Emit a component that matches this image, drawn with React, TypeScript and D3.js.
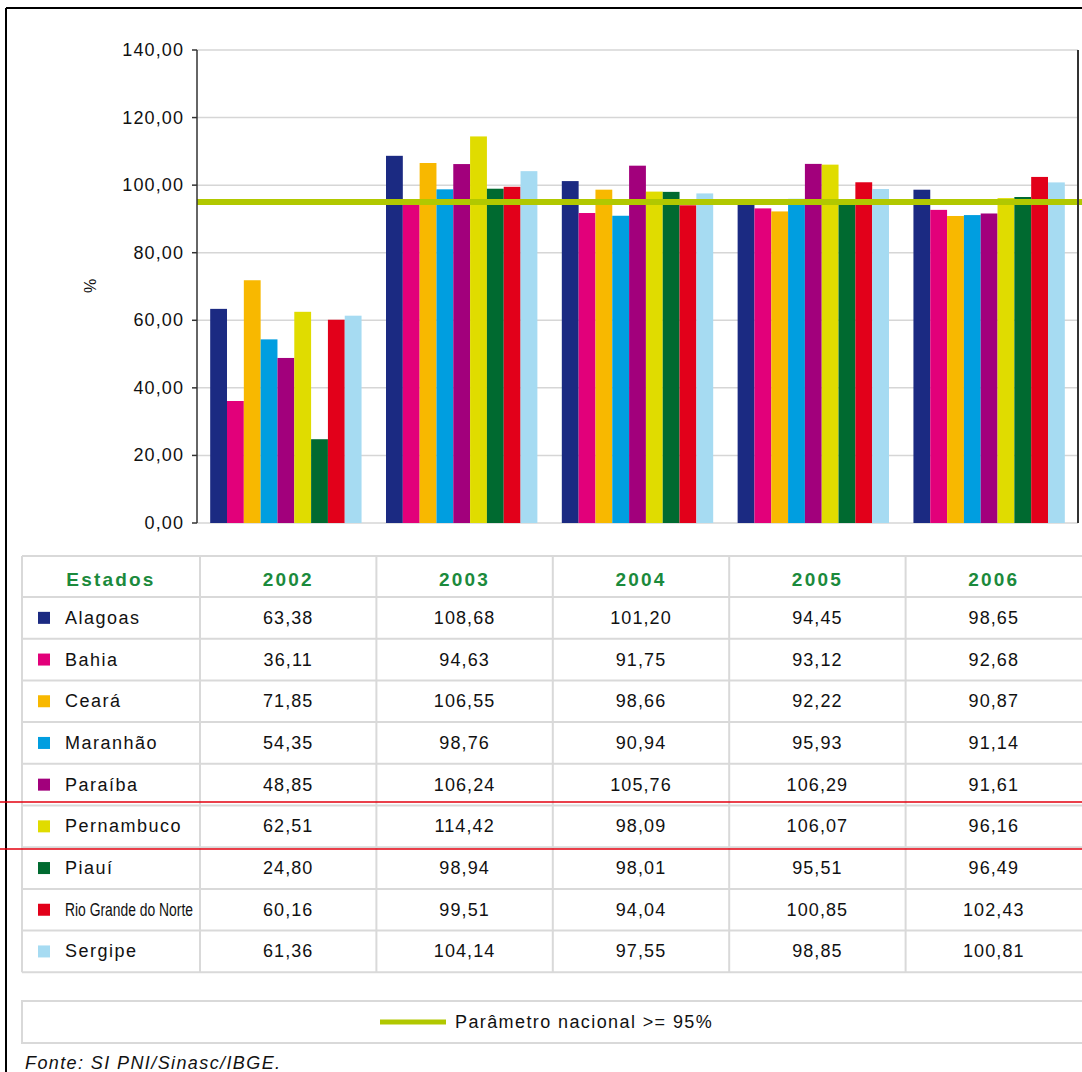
import React from "react";
import * as d3 from "d3";

// Cobertura vacinal por estado do Nordeste, 2002–2006 (%)
const years = ["2002", "2003", "2004", "2005", "2006"];
const states = [
  "Alagoas",
  "Bahia",
  "Ceará",
  "Maranhão",
  "Paraíba",
  "Pernambuco",
  "Piauí",
  "Rio Grande do Norte",
  "Sergipe",
];
const stateColors = [
  "#1b2a82",
  "#e2007a",
  "#f8b800",
  "#009ee0",
  "#a2007c",
  "#e0dc00",
  "#006a30",
  "#e2001a",
  "#a6dbf2",
];
const alagoas = [63.38, 108.68, 101.2, 94.45, 98.65];
const bahia = [36.11, 94.63, 91.75, 93.12, 92.68];
const ceara = [71.85, 106.55, 98.66, 92.22, 90.87];
const maranhao = [54.35, 98.76, 90.94, 95.93, 91.14];
const paraiba = [48.85, 106.24, 105.76, 106.29, 91.61];
const pernambuco = [62.51, 114.42, 98.09, 106.07, 96.16];
const piaui = [24.8, 98.94, 98.01, 95.51, 96.49];
const rioGrandeDoNorte = [60.16, 99.51, 94.04, 100.85, 102.43];
const sergipe = [61.36, 104.14, 97.55, 98.85, 100.81];
const seriesValues = [
  alagoas,
  bahia,
  ceara,
  maranhao,
  paraiba,
  pernambuco,
  piaui,
  rioGrandeDoNorte,
  sergipe,
];
const yTicks = [0, 20, 40, 60, 80, 100, 120, 140];
const nationalTarget = 95;
const targetLabel = "Parâmetro nacional >= 95%";
const sourceNote = "Fonte: SI PNI/Sinasc/IBGE.";

const W = 1082;
const H = 1072;
const FONT = "'Liberation Sans', Arial, sans-serif";
const fmt = (v: number) => d3.format(".2f")(v).replace(".", ",");

export default function App() {
  const plotLeft = 197;
  const plotRight = 1078;
  const plotTop = 50;
  const plotBottom = 523;

  const y = d3.scaleLinear().domain([0, 140]).range([plotBottom, plotTop]);
  const xYear = d3
    .scaleBand<string>()
    .domain(years)
    .range([plotLeft, plotRight])
    .paddingInner(0.139)
    .paddingOuter(0.075);
  const xState = d3
    .scaleBand<string>()
    .domain(states)
    .range([0, xYear.bandwidth()]);

  // table geometry
  const tLeft = 22;
  const tRight = 1082;
  const tHeadTop = 556;
  const tTop = 597;
  const rowH = 41.7;
  const firstColRight = 200;
  const colX = d3
    .scaleBand<string>()
    .domain(years)
    .range([firstColRight, tRight]);
  const tBottom = tTop + rowH * states.length;
  const gridColor = "#d9d9d9";

  return (
    <div style={{ position: "absolute", left: 0, top: 0 }}>
      <svg width={W} height={H} style={{ display: "block", background: "#fff" }}>
        {/* outer frame */}
        <line x1={6} y1={8} x2={W} y2={8} stroke="#000" strokeWidth={2} />
        <line x1={6} y1={8} x2={6} y2={H} stroke="#000" strokeWidth={2} />

        {/* gridlines */}
        {yTicks.map((t) => (
          <line
            key={"g" + t}
            x1={plotLeft}
            x2={plotRight}
            y1={y(t)}
            y2={y(t)}
            stroke="#d6d6d6"
            strokeWidth={1.5}
          />
        ))}

        {/* bars */}
        {years.map((yr, yi) => (
          <g key={yr} transform={`translate(${xYear(yr)},0)`}>
            {states.map((st, si) => {
              const v = seriesValues[si][yi];
              return (
                <rect
                  key={st}
                  x={xState(st)}
                  y={y(v)}
                  width={xState.bandwidth()}
                  height={y(0) - y(v)}
                  fill={stateColors[si]}
                />
              );
            })}
          </g>
        ))}

        {/* national target line */}
        <line
          x1={plotLeft}
          x2={W}
          y1={y(nationalTarget)}
          y2={y(nationalTarget)}
          stroke="#b1c800"
          strokeWidth={6}
        />

        {/* axes */}
        <line x1={plotLeft} x2={plotLeft} y1={plotTop} y2={plotBottom} stroke="#333" strokeWidth={1.5} />
        <line x1={plotRight} x2={plotRight} y1={plotTop} y2={plotBottom} stroke="#333" strokeWidth={2} />
        {yTicks.map((t) => (
          <g key={"t" + t}>
            <line x1={plotLeft - 5} x2={plotLeft} y1={y(t)} y2={y(t)} stroke="#333" strokeWidth={1.5} />
            <text
              x={184}
              y={y(t)}
              textAnchor="end"
              dominantBaseline="central"
              fontFamily={FONT}
              fontSize={18}
              letterSpacing={1.1}
              fill="#111"
            >
              {fmt(t)}
            </text>
          </g>
        ))}
        <text
          transform={`translate(90,286) rotate(-90)`}
          textAnchor="middle"
          dominantBaseline="central"
          fontFamily={FONT}
          fontSize={16}
          fill="#111"
        >
          %
        </text>

        {/* data table */}
        <g fontFamily={FONT}>
          {/* horizontal rules */}
          {d3.range(states.length + 2).map((i) => {
            const yy = i === 0 ? tHeadTop : tTop + rowH * (i - 1);
            return (
              <line key={"h" + i} x1={tLeft} x2={tRight} y1={yy} y2={yy} stroke={gridColor} strokeWidth={2} />
            );
          })}
          {/* vertical rules */}
          <line x1={tLeft} x2={tLeft} y1={tHeadTop} y2={tBottom} stroke={gridColor} strokeWidth={2} />
          {years.map((yr) => (
            <line
              key={"v" + yr}
              x1={colX(yr)}
              x2={colX(yr)}
              y1={tHeadTop}
              y2={tBottom}
              stroke={gridColor}
              strokeWidth={2}
            />
          ))}

          {/* header */}
          <text
            x={(tLeft + firstColRight) / 2}
            y={(tHeadTop + tTop) / 2 + 3}
            textAnchor="middle"
            dominantBaseline="central"
            fontSize={19}
            fontWeight="bold"
            letterSpacing={2.2}
            fill="#1b8a3c"
          >
            Estados
          </text>
          {years.map((yr) => (
            <text
              key={"hd" + yr}
              x={(colX(yr) as number) + colX.bandwidth() / 2}
              y={(tHeadTop + tTop) / 2 + 3}
              textAnchor="middle"
              dominantBaseline="central"
              fontSize={19}
              fontWeight="bold"
              letterSpacing={2.2}
              fill="#1b8a3c"
            >
              {yr}
            </text>
          ))}

          {/* rows */}
          {states.map((st, si) => {
            const cy = tTop + rowH * si + rowH / 2;
            const isLong = st.length > 12;
            return (
              <g key={"r" + st}>
                <rect x={38} y={cy - 6} width={12} height={12} fill={stateColors[si]} />
                <text
                  x={65}
                  y={cy}
                  dominantBaseline="central"
                  fontSize={18}
                  letterSpacing={isLong ? 0 : 1.5}
                  textLength={isLong ? 128 : undefined}
                  lengthAdjust={isLong ? "spacingAndGlyphs" : undefined}
                  fill="#111"
                >
                  {st}
                </text>
                {years.map((yr, yi) => (
                  <text
                    key={yr}
                    x={(colX(yr) as number) + colX.bandwidth() / 2}
                    y={cy}
                    textAnchor="middle"
                    dominantBaseline="central"
                    fontSize={18}
                    letterSpacing={1.1}
                    fill="#111"
                  >
                    {fmt(seriesValues[si][yi])}
                  </text>
                ))}
              </g>
            );
          })}
        </g>

        {/* highlight rules around Pernambuco */}
        <line x1={0} x2={W} y1={802} y2={802} stroke="#e3000f" strokeWidth={1.5} />
        <line x1={0} x2={W} y1={849} y2={849} stroke="#e3000f" strokeWidth={1.5} />

        {/* legend */}
        <rect x={tLeft} y={1001} width={W - tLeft + 2} height={42} fill="none" stroke={gridColor} strokeWidth={2} />
        <line x1={380} x2={446} y1={1022} y2={1022} stroke="#b1c800" strokeWidth={5} />
        <text
          x={455}
          y={1022}
          dominantBaseline="central"
          fontFamily={FONT}
          fontSize={18}
          letterSpacing={1.4}
          fill="#111"
        >
          {targetLabel}
        </text>

        {/* source */}
        <text
          x={25}
          y={1069}
          fontFamily={FONT}
          fontSize={18}
          fontStyle="italic"
          letterSpacing={1.4}
          fill="#111"
        >
          {sourceNote}
        </text>
      </svg>
    </div>
  );
}
